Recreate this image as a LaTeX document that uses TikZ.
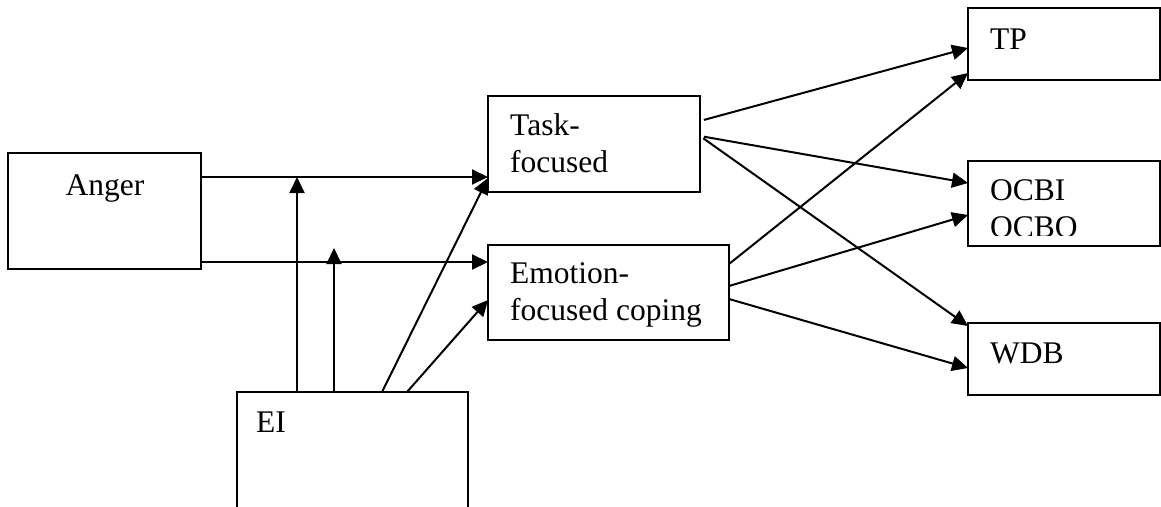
\documentclass[tikz,border=0pt]{standalone}
\usepackage{fontspec}
\setmainfont{Liberation Serif}
\usetikzlibrary{arrows.meta,calc}
\begin{document}
\begin{tikzpicture}[x=1pt,y=-1pt,
  box/.style={draw,line width=2pt,inner sep=0pt,outer sep=0pt},
  lbl/.style={anchor=base west,inner sep=0pt,font=\fontsize{31.5}{37}\selectfont},
  link/.style={line width=2pt,-{Triangle[length=16pt,width=15pt]}},
  outlink/.style={link,shorten <=4pt}]
\useasboundingbox (0,0) rectangle (1161,506);

% boxes
\node[box,minimum width=193pt,minimum height=116pt] (anger) at (104.5,211) {};
\node[box,minimum width=212pt,minimum height=96pt] (task) at (594,144) {};
\node[box,minimum width=241pt,minimum height=95pt] (emo) at (608.5,292.5) {};
\node[box,minimum width=231pt,minimum height=156pt] (ei) at (352.5,470) {};
\node[box,minimum width=192pt,minimum height=72pt] (tp) at (1064,44) {};
\node[box,minimum width=192pt,minimum height=85pt] (ocb) at (1064,203.5) {};
\node[box,minimum width=192pt,minimum height=72pt] (wdb) at (1064,359) {};

% labels
\node[lbl,anchor=base] (tAnger) at (105,195) {Anger};
\node[lbl] (tTask1) at (510,135) {Task-};
\node[lbl] (tTask2) at (510,172) {focused};
\node[lbl] (tEmo1) at (510,283) {Emotion-};
\node[lbl] (tEmo2) at (510,320) {focused coping};
\node[lbl] (tEI) at (256,432) {EI};
\node[lbl] (tTP) at (990,49) {TP};
\begin{scope}
  \clip (968,150) rectangle (1160,235);
  \node[lbl] (tOCBI) at (990,200) {OCBI};
  \node[lbl] (tOCBO) at (990,237) {OCBO};
\end{scope}
\node[lbl] (tWDB) at (990,363) {WDB};

% moderation points on the anger paths
\coordinate (m1) at (297,177);
\coordinate (m2) at (334,248);

% anger to coping
\draw[link] (anger.east |- 0,177) -- (task.west |- 0,177);
\draw[link] (anger.east |- 0,262) -- (emo.west |- 0,262);

% EI paths
\draw[link] (ei.north -| 297,0) -- (m1);
\draw[link] (ei.north -| 334,0) -- (m2);
\draw[link] (ei.north -| 382,0) -- (task.west |- 0,178);
\draw[link] (ei.north -| 407,0) -- (emo.west |- 0,300);

% coping to outcomes
\draw[outlink] (task.east |- 0,121) -- (tp.west |- 0,48);
\draw[outlink] (task.east |- 0,136) -- (ocb.west |- 0,183);
\draw[outlink] (task.east |- 0,136) -- (wdb.west |- 0,326);
\draw[link] (emo.east |- 0,264) -- (tp.west |- 0,73);
\draw[link] (emo.east |- 0,286) -- (ocb.west |- 0,215);
\draw[link] (emo.east |- 0,299) -- (wdb.west |- 0,368);
\end{tikzpicture}
\end{document}
